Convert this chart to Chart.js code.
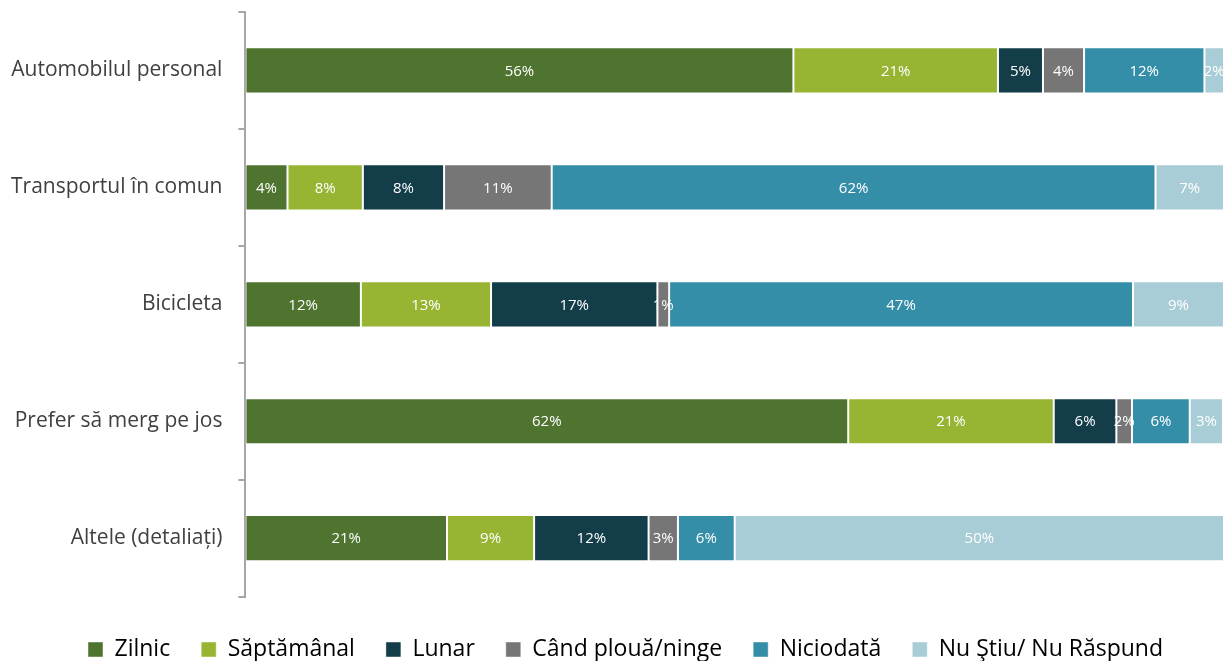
<!DOCTYPE html>
<html>
<head>
<meta charset="utf-8">
<script src="https://cdn.jsdelivr.net/npm/chart.js@4"></script>
<style>
  html, body { margin: 0; padding: 0; background: #fff; }
  #wrap { width: 1229px; height: 661px; }
</style>
</head>
<body>
<div id="wrap"><canvas id="chart" width="1229" height="661"></canvas></div>
<script>
// categories (rows)
const categories = [
    "Automobilul personal",
    "Transportul în comun",
    "Bicicleta",
    "Prefer să merg pe jos",
    "Altele (detaliați)",
];

// series values, percent per row
const zilnic      = [56.0, 4.3, 11.8, 61.6, 20.6];
const saptamanal  = [20.9, 7.7, 13.3, 21.0, 8.9];
const lunar       = [4.6, 8.3, 17.0, 6.4, 11.7];
const candPloua   = [4.2, 11.0, 1.2, 1.6, 3.0];
const niciodata   = [12.3, 61.7, 47.4, 5.9, 5.8];
const nuStiu      = [2.0, 7.0, 9.3, 3.4, 50.0];

const seriesNames = ["Zilnic", "Săptămânal", "Lunar", "Când plouă/ninge", "Niciodată", "Nu Ştiu/ Nu Răspund"];
const seriesData = [zilnic, saptamanal, lunar, candPloua, niciodata, nuStiu];
const colors = ["#4e7430", "#98b433", "#123d49", "#767676", "#348ea7", "#a9cdd6"];

const FONT = "'Open Sans', sans-serif";

/** Draw the rounded value in the middle of each bar segment */
const barLabels = {
    id: "barLabels",
    afterLayout(chart) {
        // legend sits a bit right of the canvas centre
        chart.legend.left += 16;
        chart.legend.right += 16;
    },
    afterDatasetsDraw(chart) {
        const ctx = chart.ctx;
        ctx.save();
        ctx.font = "15px " + FONT;
        ctx.fillStyle = "#ffffff";
        ctx.textAlign = "center";
        ctx.textBaseline = "middle";
        chart.data.datasets.forEach((ds, i) => {
            const meta = chart.getDatasetMeta(i);
            meta.data.forEach((bar, j) => {
                const p = bar.getCenterPoint();
                ctx.fillText(Math.round(ds.data[j]) + "%", p.x, p.y + 1);
            });
        });
        ctx.restore();
    },
};

new Chart(document.getElementById("chart"), {
    type: "bar",
    data: {
        labels: categories,
        datasets: seriesNames.map((name, i) => ({
            label: name,
            data: seriesData[i],
            backgroundColor: colors[i],
            borderColor: "rgba(255,255,255,0.45)",
            borderWidth: 1,
            borderSkipped: false,
            barPercentage: 0.79,
            categoryPercentage: 0.5,
        })),
    },
    options: {
        indexAxis: "y",
        responsive: false,
        animation: false,
        layout: { padding: { left: -5, right: 5, top: 12, bottom: -10 } },
        scales: {
            x: { stacked: true, min: 0, max: 100, display: false },
            y: {
                stacked: true,
                afterFit: (scale) => {
                    // no extra room above/below the axis for the labels
                    scale.paddingTop = 0;
                    scale.paddingBottom = 0;
                },
                border: { display: true, color: "#a6a6a6", width: 2 },
                grid: {
                    drawOnChartArea: false,
                    offset: true,
                    tickLength: 7,
                    color: "#a6a6a6",
                    lineWidth: 2,
                },
                ticks: {
                    color: "#404040",
                    padding: 16,
                    font: { family: FONT, size: 21 },
                },
            },
        },
        plugins: {
            legend: {
                position: "bottom",
                title: { display: true, text: " ", font: { size: 2 }, padding: 4 },
                labels: {
                    color: "#000000",
                    boxWidth: 15,
                    boxHeight: 15,
                    padding: 31,
                    font: { family: FONT, size: 23 },
                },
            },
            tooltip: { enabled: false },
        },
    },
    plugins: [barLabels],
});
</script>
</body>
</html>
